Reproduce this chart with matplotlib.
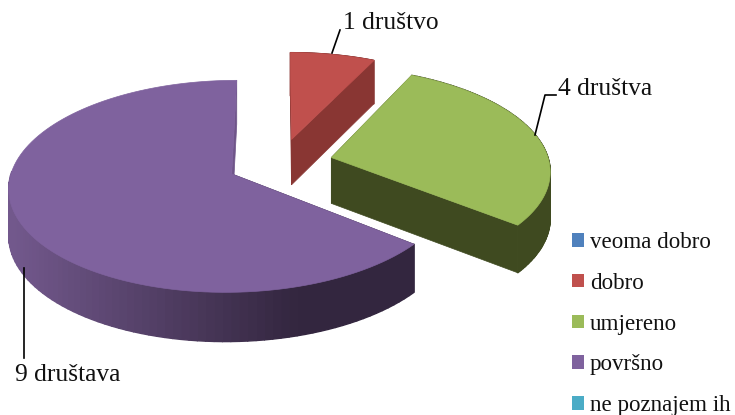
import numpy as np
import matplotlib
matplotlib.use("Agg")
import matplotlib.pyplot as plt
from matplotlib.patches import Polygon, Patch
from matplotlib.collections import PolyCollection
from matplotlib.colors import to_rgb

plt.rcParams['font.family'] = ['Liberation Serif', 'DejaVu Serif']

categories = ["veoma dobro", "dobro", "umjereno", "površno", "ne poznajem ih"]
values = [0, 1, 4, 9, 0]
colors = ["#4f81bd", "#c0504d", "#9bbb59", "#7f629e", "#4bacc6"]
wall_colors = ["#2f4d71", "#893633", "#3f4a20", "#33263f", "#2d6776"]
data_labels = ["", "1 društvo", "4 društva", "9 društava", ""]

# projection of the tilted disc
CX, CY, RX, RY, PERSP, DEPTH, EXPLODE = 280, 163, 218, 102, 0.116, 46, 0.243


def project(x, y, lower=False):
    w = 1 - PERSP * y
    px = CX + RX * x / w
    py = CY + RY * y / w
    if lower:
        py = py + DEPTH / np.sqrt(w)
    return px, py


fig = plt.figure(figsize=(7.35, 4.15), dpi=100)
ax = fig.add_axes([0, 0, 1, 1])
ax.set_xlim(0, 735)
ax.set_ylim(415, 0)
ax.axis("off")

total = sum(values)
edges = np.concatenate([[0], np.cumsum(values)]) / total * 2 * np.pi


def lerp(c1, c2, t):
    a, b = np.array(to_rgb(c1)), np.array(to_rgb(c2))
    return a + (b - a) * t


for i in [1, 2, 3]:
    t0, t1 = edges[i], edges[i + 1]
    mid = (t0 + t1) / 2
    ox, oy = EXPLODE * np.sin(mid), -EXPLODE * np.cos(mid)
    th = np.linspace(t0, t1, 121)
    ax_x = ox + np.sin(th)
    ax_y = oy - np.cos(th)
    tx, ty = project(ax_x, ax_y)
    bx, by = project(ax_x, ax_y, True)
    cx, cy = project(np.array([ox]), np.array([oy]))
    cbx, cby = project(np.array([ox]), np.array([oy]), True)

    # cut faces (the purple one at 12 o'clock shows only as a thin, lighter sliver)
    face_cols = [wall_colors[i], "#6f5589" if i == 3 else wall_colors[i]]
    for (ex, ey, fx, fy), fc in zip([(tx[0], ty[0], bx[0], by[0]), (tx[-1], ty[-1], bx[-1], by[-1])], face_cols):
        ax.add_patch(Polygon([(cx[0], cy[0]), (ex, ey), (fx, fy), (cbx[0], cby[0])],
                             closed=True, fc=fc, ec=fc, lw=0.5, zorder=2 + i))
    # outer wall
    quads, cols = [], []
    for j in range(len(th) - 1):
        # the far half of the purple wall is hidden behind the top face
        if i == 3 and ax_y[j] < oy:
            continue
        quads.append([(tx[j], ty[j]), (tx[j + 1], ty[j + 1]), (bx[j + 1], by[j + 1]), (bx[j], by[j])])
        if i == 3:
            f = np.clip((tx[j] - 15) / 285, 0, 1)
            cols.append(lerp("#72588c", wall_colors[3], f))
        else:
            cols.append(to_rgb(wall_colors[i]))
    ax.add_collection(PolyCollection(quads, facecolors=cols, edgecolors=cols, linewidths=1.0, zorder=2 + i))
    # top face
    ax.add_patch(Polygon(np.column_stack([np.r_[cx, tx], np.r_[cy, ty]]), closed=True,
                         fc=colors[i], ec=colors[i], lw=0.5, zorder=2.5 + i))

# leader lines and data labels
ax.plot([332, 340], [53, 30], color="black", lw=1.2, zorder=8)
ax.plot([535, 545, 556], [135, 95, 95], color="black", lw=1.2, zorder=8)
ax.plot([24, 24], [268, 358], color="black", lw=1.2, zorder=8)
ax.text(343, 23, data_labels[1], fontsize=18.4, ha="left", va="center", color="#111111")
ax.text(558, 89, data_labels[2], fontsize=18.4, ha="left", va="center", color="#111111")
ax.text(15, 375, data_labels[3], fontsize=18.4, ha="left", va="center", color="#111111")

handles = [Patch(fc=c, ec="none") for c in colors]
leg = ax.legend(handles, categories, loc="center left", bbox_to_anchor=(0.778, 0.219),
                frameon=False, fontsize=16.6, labelspacing=0.855, handlelength=0.52,
                handleheight=0.52, handletextpad=0.26, borderpad=0, borderaxespad=0,
                labelcolor="#111111")

fig.savefig("out.png", dpi=100)
